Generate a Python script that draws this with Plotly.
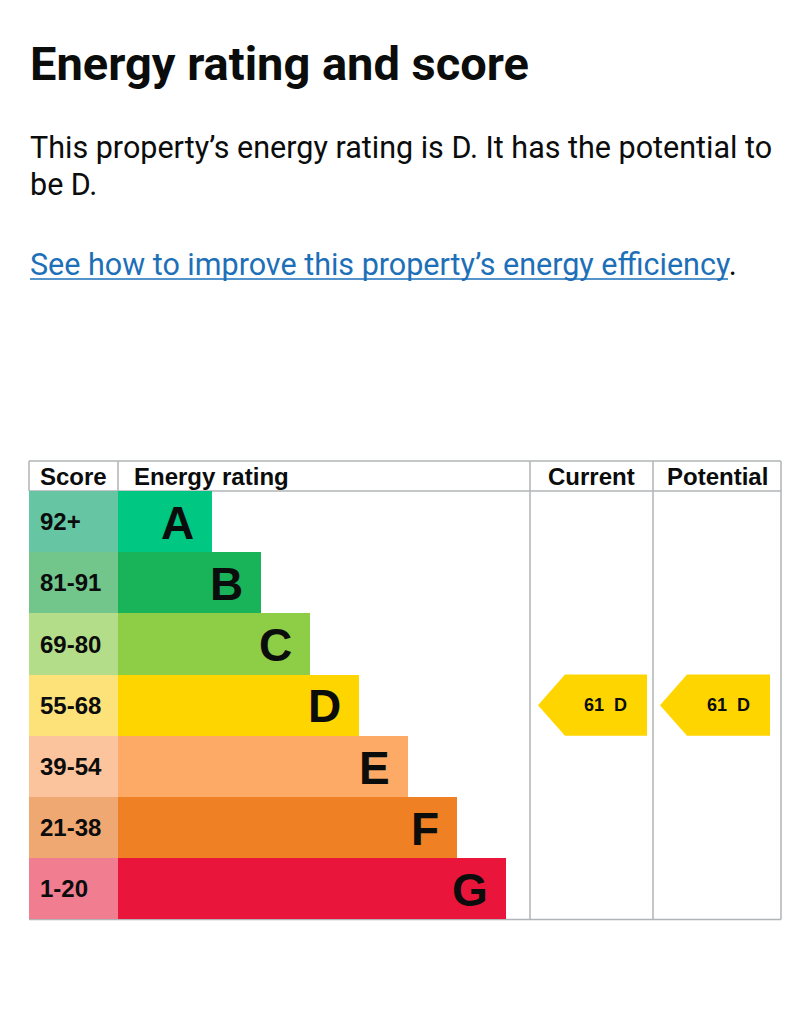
"""Energy rating and score (EPC) chart rebuilt with Plotly."""

import plotly.graph_objects as go

# --- data -----------------------------------------------------------------
BANDS = ["A", "B", "C", "D", "E", "F", "G"]
SCORE_RANGES = ["92+", "81-91", "69-80", "55-68", "39-54", "21-38", "1-20"]
BAND_MIN_SCORE = [92, 81, 69, 55, 39, 21, 1]
BAR_LENGTHS = [94, 143, 192, 241, 290, 339, 388]
BAND_COLORS = ["#00c781", "#19b459", "#8dce46", "#ffd500", "#fcaa65", "#ef8023", "#e9153b"]
SCORE_COLORS = ["#66c6a3", "#72c68c", "#b4dd89", "#fde27a", "#fcc49d", "#f0a873", "#f07d90"]
CURRENT_SCORE = 61
POTENTIAL_SCORE = 61

# --- page geometry (pixels, page coordinates) ----------------------------
W, H = 811, 1024
BODY_MARGIN = 8  # browser default body margin shifts the figure
TABLE_TOP = 461
ROWS_TOP = 491
ROW_H = 61.2
LEFT, SCORE_RIGHT, CUR_LEFT, POT_LEFT, RIGHT = 29, 118, 530, 653, 781
GRID = "#b1b4b6"
INK = "#0b0c0c"
FONT = "Liberation Sans, Arial, sans-serif"
GDS = "Roboto, sans-serif"


def py(p):
    """pixel row -> y axis value (row index units)"""
    return (p - ROWS_TOP) / ROW_H - 0.5


def band_of(score):
    for i, lo in enumerate(BAND_MIN_SCORE):
        if score >= lo:
            return i
    return len(BANDS) - 1


rows = list(range(len(BANDS)))

fig = go.Figure()
fig.add_trace(go.Bar(y=rows, x=[SCORE_RIGHT - LEFT] * len(rows), base=LEFT, orientation="h",
                     width=1.0, marker=dict(color=SCORE_COLORS, line=dict(width=0)),
                     hoverinfo="skip", showlegend=False))
fig.add_trace(go.Bar(y=rows, x=BAR_LENGTHS, base=SCORE_RIGHT, orientation="h",
                     width=1.0, marker=dict(color=BAND_COLORS, line=dict(width=0)),
                     hoverinfo="skip", showlegend=False))

# arrows for current / potential
for score, left, right in ((CURRENT_SCORE, CUR_LEFT + 8, CUR_LEFT + 117),
                           (POTENTIAL_SCORE, POT_LEFT + 7, POT_LEFT + 117)):
    r = band_of(score)
    body = left + 27
    fig.add_trace(go.Scatter(
        x=[left, body, right, right, body, left],
        y=[r, r - 0.5, r - 0.5, r + 0.5, r + 0.5, r],
        fill="toself", fillcolor=BAND_COLORS[r], mode="lines", line=dict(width=0),
        hoverinfo="skip", showlegend=False))
    fig.add_annotation(x=(left + right) / 2 + 13, y=r, text=f"<b>{score}  {BANDS[r]}</b>",
                       showarrow=False, font=dict(family=FONT, size=18, color=INK))

# band letters and score labels
for i, (band, rng, length) in enumerate(zip(BANDS, SCORE_RANGES, BAR_LENGTHS)):
    fig.add_annotation(x=SCORE_RIGHT + length - 16, y=i + 0.02, text=f"<b>{band}</b>",
                       xanchor="right", showarrow=False,
                       font=dict(family=FONT, size=46, color=INK))
    fig.add_annotation(x=LEFT + 9, y=i, text=f"<b>{rng}</b>", xanchor="left",
                       showarrow=False, font=dict(family=FONT, size=24, color=INK))

# header
hy = py((TABLE_TOP + ROWS_TOP) / 2)
for txt, x, anchor in (("Score", LEFT + 9, "left"), ("Energy rating", SCORE_RIGHT + 14, "left"),
                       ("Current", (CUR_LEFT + POT_LEFT) / 2, "center"),
                       ("Potential", (POT_LEFT + RIGHT) / 2, "center")):
    fig.add_annotation(x=x, y=hy, text=f"<b>{txt}</b>", xanchor=anchor, showarrow=False,
                       font=dict(family=FONT, size=24, color=INK))

# table grid
line = dict(color=GRID, width=1.5)
ytop, yhead, ybot = py(TABLE_TOP), py(ROWS_TOP), py(ROWS_TOP + ROW_H * 7)
for x0, y0, x1, y1 in ((LEFT, ytop, RIGHT, ytop), (LEFT, yhead, RIGHT, yhead),
                       (LEFT, ybot, RIGHT, ybot), (LEFT, ytop, LEFT, yhead),
                       (SCORE_RIGHT, ytop, SCORE_RIGHT, yhead), (CUR_LEFT, ytop, CUR_LEFT, ybot),
                       (POT_LEFT, ytop, POT_LEFT, ybot), (RIGHT, ytop, RIGHT, ybot)):
    fig.add_shape(type="line", x0=x0, y0=y0, x1=x1, y1=y1, line=line, layer="below")

# page text
fig.add_annotation(x=28, y=py(63), text="<b>Energy rating and score</b>", xanchor="left",
                   showarrow=False, font=dict(family=GDS, size=47, color=INK))
fig.add_annotation(x=28, y=py(147), text="This property’s energy rating is D. It has the potential to",
                   xanchor="left", showarrow=False, font=dict(family=GDS, size=30.5, color=INK))
fig.add_annotation(x=28, y=py(184), text="be D.", xanchor="left", showarrow=False,
                   font=dict(family=GDS, size=30.5, color=INK))
fig.add_annotation(x=28, y=py(264),
                   text="<span style='color:#1d70b8'>See how to improve this property’s energy efficiency</span>.",
                   xanchor="left", showarrow=False, font=dict(family=GDS, size=30.5, color=INK))
fig.add_shape(type="line", x0=30, x1=728, y0=py(279), y1=py(279),
              line=dict(color="#1d70b8", width=1.5))

fig.update_layout(
    width=W - BODY_MARGIN, height=H - BODY_MARGIN, margin=dict(l=0, r=0, t=0, b=0),
    paper_bgcolor="white", plot_bgcolor="white", barmode="overlay", bargap=0,
    xaxis=dict(range=[BODY_MARGIN, W], visible=False, fixedrange=True),
    yaxis=dict(range=[py(H), py(BODY_MARGIN)], visible=False, fixedrange=True),
)
fig.write_html("out.html")
